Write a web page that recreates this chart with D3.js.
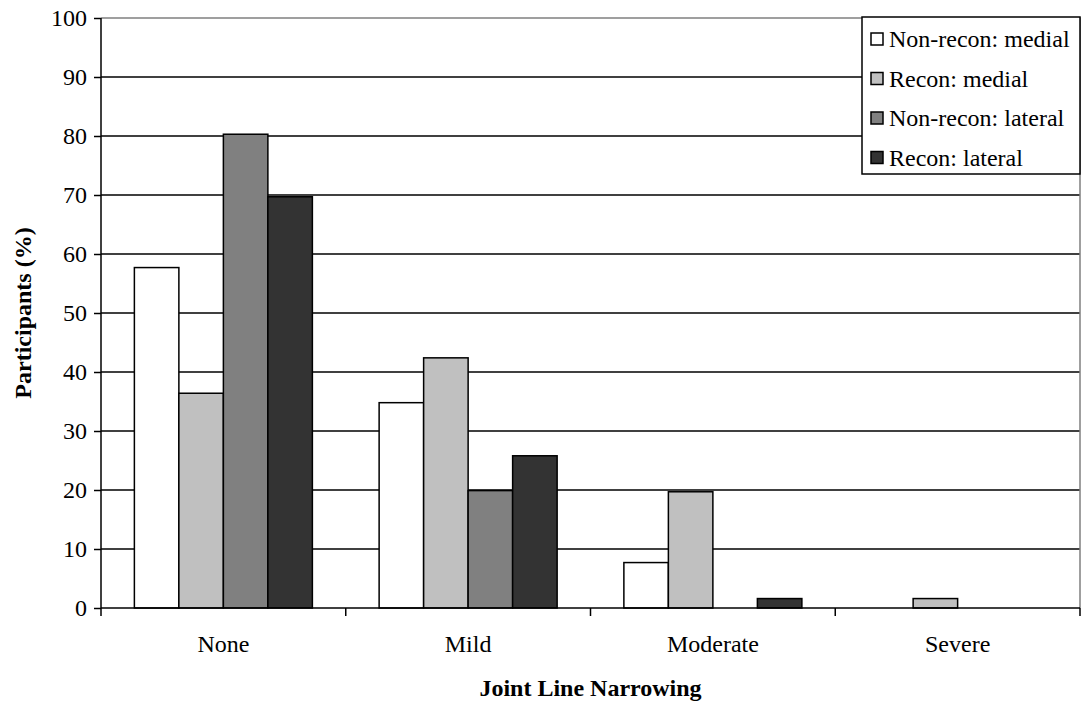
<!DOCTYPE html>
<html>
<head>
<meta charset="utf-8">
<script src="https://cdn.jsdelivr.net/npm/d3@7"></script>
<style>
  body { margin: 0; background: #fff; }
  svg { display: block; font-family: "Liberation Serif", "Times New Roman", serif; }
</style>
</head>
<body>
<svg id="chart" width="1086" height="706"></svg>
<script>
var categories = ["None", "Mild", "Moderate", "Severe"];
var seriesNames = ["Non-recon: medial", "Recon: medial", "Non-recon: lateral", "Recon: lateral"];
var seriesColors = ["#ffffff", "#c0c0c0", "#808080", "#333333"];
var nonReconMedial = [57.7, 34.8, 7.7, 0];
var reconMedial = [36.4, 42.4, 19.7, 1.6];
var nonReconLateral = [80.3, 19.9, 0, 0];
var reconLateral = [69.7, 25.8, 1.6, 0];
var yTicks = [0, 10, 20, 30, 40, 50, 60, 70, 80, 90, 100];

var seriesValues = [nonReconMedial, reconMedial, nonReconLateral, reconLateral];

var plotLeft = 101, plotRight = 1080, plotTop = 18, plotBottom = 608;
var fontSize = 24;
var svg = d3.select("#chart");

var x0 = d3.scaleBand().domain(categories).range([plotLeft, plotRight]).paddingInner(0).paddingOuter(0);
var x1 = d3.scaleBand().domain(seriesNames).range([0, x0.bandwidth()]).paddingInner(0).paddingOuter(0.75);
var y = d3.scaleLinear().domain([0, 100]).range([plotBottom, plotTop]);

// gridlines
svg.append("g").selectAll("line")
  .data(yTicks.filter(function(d) { return d > 0 && d < 100; }))
  .enter().append("line")
  .attr("x1", plotLeft).attr("x2", plotRight)
  .attr("y1", function(d) { return y(d); }).attr("y2", function(d) { return y(d); })
  .attr("stroke", "#000").attr("stroke-width", 1.5);

// plot area border (top and right)
svg.append("path")
  .attr("d", "M" + plotLeft + "," + plotTop + "H" + plotRight + "V" + plotBottom)
  .attr("fill", "none").attr("stroke", "#808080").attr("stroke-width", 1.5);

// bars
var groups = svg.append("g").selectAll("g")
  .data(seriesNames).enter().append("g")
  .attr("fill", function(d, i) { return seriesColors[i]; });

groups.each(function(name, si) {
  d3.select(this).selectAll("rect")
    .data(seriesValues[si]).enter().append("rect")
    .attr("x", function(d, ci) { return x0(categories[ci]) + x1(name); })
    .attr("width", x1.bandwidth())
    .attr("y", function(d) { return y(d); })
    .attr("height", function(d) { return y(0) - y(d); })
    .attr("stroke", "#000").attr("stroke-width", 1.5);
});

// y axis
var yAxis = svg.append("g").attr("transform", "translate(" + plotLeft + ",0)")
  .call(d3.axisLeft(y).tickValues(yTicks).tickSize(7).tickPadding(7).tickFormat(d3.format("d")));
yAxis.selectAll("line, path").attr("stroke", "#000").attr("stroke-width", 1.5);
yAxis.select("path").attr("d", "M0," + plotTop + "V" + plotBottom);
yAxis.selectAll("text").attr("font-size", fontSize).attr("font-family", "Liberation Serif").attr("fill", "#000");

// x axis
var xAxis = svg.append("g").attr("transform", "translate(0," + plotBottom + ")")
  .call(d3.axisBottom(x0).tickSize(0).tickPadding(27));
xAxis.select("path").attr("d", "M" + plotLeft + ",0H" + plotRight).attr("stroke", "#000").attr("stroke-width", 1.5);
xAxis.selectAll("text").attr("font-size", fontSize).attr("font-family", "Liberation Serif").attr("fill", "#000");
svg.append("g").selectAll("line")
  .data(categories.concat(["end"])).enter().append("line")
  .attr("x1", function(d, i) { return i < categories.length ? x0(d) : plotRight; })
  .attr("x2", function(d, i) { return i < categories.length ? x0(d) : plotRight; })
  .attr("y1", plotBottom).attr("y2", plotBottom + 8)
  .attr("stroke", "#000").attr("stroke-width", 1.5);

// axis titles
svg.append("text")
  .attr("x", (plotLeft + plotRight) / 2).attr("y", 696)
  .attr("text-anchor", "middle").attr("font-weight", "bold").attr("font-size", fontSize)
  .text("Joint Line Narrowing");
svg.append("text")
  .attr("transform", "translate(31," + ((plotTop + plotBottom) / 2) + ") rotate(-90)")
  .attr("text-anchor", "middle").attr("font-weight", "bold").attr("font-size", fontSize)
  .text("Participants (%)");

// legend
var legend = svg.append("g").attr("transform", "translate(862,17)");
legend.append("rect")
  .attr("width", 218).attr("height", 157)
  .attr("fill", "#fff").attr("stroke", "#000").attr("stroke-width", 1.5);
var items = legend.selectAll("g.item").data(seriesNames).enter().append("g")
  .attr("transform", function(d, i) { return "translate(0," + (22 + i * 39.5) + ")"; });
items.append("rect")
  .attr("x", 9).attr("y", -6).attr("width", 12).attr("height", 12)
  .attr("fill", function(d, i) { return seriesColors[i]; })
  .attr("stroke", "#000").attr("stroke-width", 1.5);
items.append("text")
  .attr("x", 27).attr("y", 8)
  .attr("font-size", fontSize)
  .text(function(d) { return d; });
</script>
</body>
</html>
